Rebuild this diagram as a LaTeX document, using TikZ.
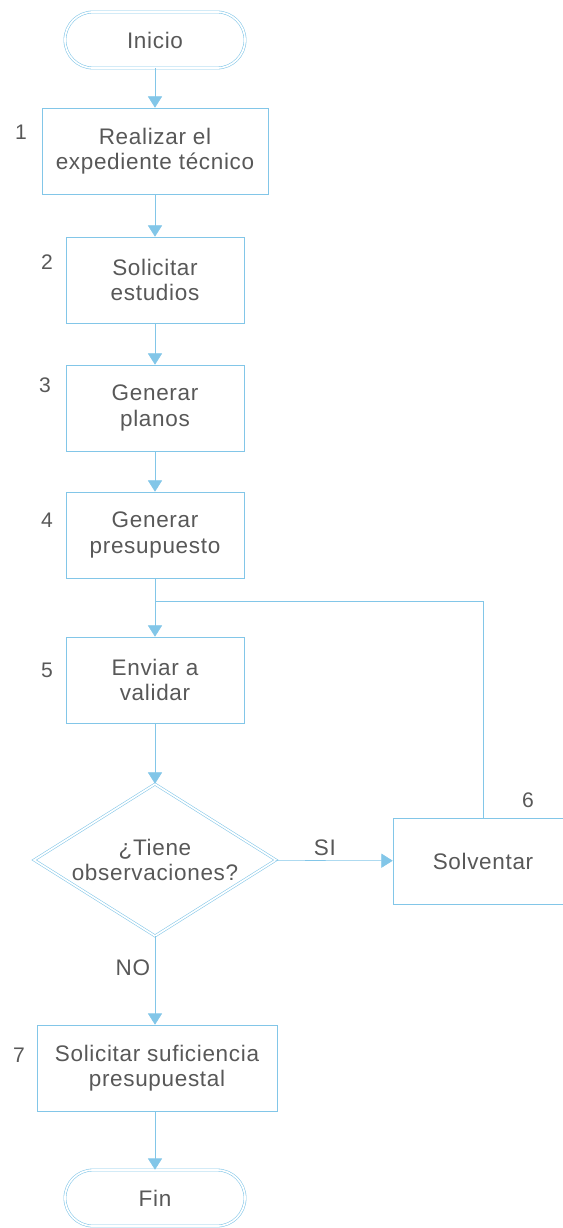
\documentclass[tikz,border=0pt]{standalone}
\usepackage{fontspec}
\setmainfont[LetterSpace=3]{Liberation Sans}
\usepackage{tikz}
\usetikzlibrary{arrows.meta, shapes.geometric}
\definecolor{linea}{HTML}{82C6E8}
\definecolor{texto}{HTML}{585858}

\begin{document}
\begin{tikzpicture}[x=0.025cm, y=-0.025cm,
  every node/.style={text=texto, font=\fontsize{16}{18}\selectfont, align=center},
  paso/.style={draw=linea, thin, fill=white, minimum height=2.15cm, minimum width=4.45cm, inner sep=2pt},
  terminal/.style={draw=linea, double=white, double distance=1.2pt, rounded corners=0.7cm, minimum width=4.5cm, minimum height=1.4cm},
  decision/.style={draw=linea, double=white, double distance=1.2pt, diamond, aspect=1.6, minimum width=6.05cm, minimum height=3.8cm, inner sep=0pt},
  flecha/.style={draw=linea, thin, -{Triangle[width=10pt,length=8pt]}},
  num/.style={font=\fontsize{15}{18}\selectfont}]
\useasboundingbox (0,0) rectangle (563,1228);
\node[terminal] (inicio) at (155,40) {Inicio};
\node[paso, minimum width=5.65cm] (s1) at (155,151) {Realizar el\\expediente técnico};
\node[paso] (s2) at (155,280) {Solicitar\\estudios};
\node[paso] (s3) at (155,408) {Generar\\planos};
\node[paso] (s4) at (155,535) {Generar\\presupuesto};
\node[paso] (s5) at (155,680) {Enviar a\\validar};
\node[decision] (d) at (155,860) {¿Tiene\\observaciones?};
\node[paso, minimum width=4.5cm] (s6) at (483,861) {Solventar};
\node[paso, minimum width=6cm] (s7) at (157,1068) {Solicitar suficiencia\\presupuestal};
\node[terminal] (fin) at (155,1198) {Fin};
\coordinate (junta) at (155,601);
% numeros de paso
\foreach \n/\pos in {1/{(21,132)},2/{(47,262)},3/{(45,385)},4/{(47,520)},5/{(47,670)},6/{(528,800)},7/{(19,1055)}} {
  \node[num] (n\n) at \pos {\n};
}
\draw[flecha] (inicio) -- (s1);
\draw[flecha] (s1) -- (s2);
\draw[flecha] (s2) -- (s3);
\draw[flecha] (s3) -- (s4);
\draw[flecha] (s4) -- (s5);
\draw[flecha] (s5) -- (d);
\draw[flecha] (d) -- node[above, pos=0.42] (si) {SI} (s6);
\draw[flecha] (d.south) -- node[left, pos=0.35] (no) {NO} (d.south |- s7.north);
\draw[flecha] (s7.south -| fin) -- (fin);
\draw[draw=linea, thin] (s6.north) |- (junta);
\end{tikzpicture}
\end{document}
